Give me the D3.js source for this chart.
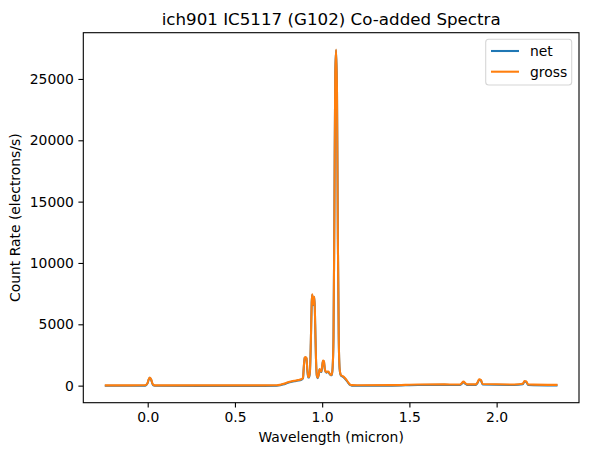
<!DOCTYPE html>
<html>
<head>
<meta charset="utf-8">
<script src="https://cdn.jsdelivr.net/npm/d3@7"></script>
<style>
  body { margin: 0; background: #fff; }
  svg text { font-family: "DejaVu Sans", sans-serif; fill: #000; }
</style>
</head>
<body>
<svg width="589" height="455"></svg>
<script>
// spectrum (micron / electrons per second)
let wavelength = [-0.24, -0.1, -0.02, -0.01, 0.0, 0.005, 0.012, 0.02, 0.027, 0.035, 0.05, 0.3, 0.6,
    0.74, 0.76, 0.78, 0.80, 0.82, 0.84, 0.86, 0.88, 0.89, 0.895, 0.90, 0.905, 0.91, 0.915, 0.92,
    0.925, 0.93, 0.935, 0.94, 0.943, 0.946, 0.949, 0.952, 0.956, 0.96, 0.965, 0.97, 0.975, 0.98,
    0.985, 0.99, 0.995, 1.0, 1.005, 1.01, 1.015, 1.02, 1.025, 1.03, 1.035, 1.04, 1.045, 1.05,
    1.055, 1.06, 1.065, 1.07, 1.075, 1.08, 1.085, 1.09, 1.095, 1.10, 1.105, 1.11, 1.12, 1.13,
    1.14, 1.15, 1.16, 1.17, 1.2, 1.4, 1.55, 1.7, 1.79, 1.80, 1.81, 1.82, 1.83, 1.88, 1.89, 1.90,
    1.91, 1.92, 2.1, 2.15, 2.16, 2.17, 2.18, 2.343];

let gross = [20, 20, 25, 60, 250, 500, 660, 500, 180, 40, 20, 20, 20,
    25, 70, 150, 250, 330, 400, 450, 520, 650, 1600, 2300, 2330, 2250, 1300, 700,
    700, 1200, 3500, 6800, 7450, 7000, 6600, 7100, 7250, 5000, 2000, 800, 650, 900,
    1350, 1200, 1150, 1600, 2050, 2000, 1400, 1150, 1100, 1150, 1150, 1050, 950, 880,
    900, 1500, 4000, 14000, 25500, 27400, 24000, 12000, 4000, 1400, 950, 820, 760, 620,
    450, 250, 90, 40, 30, 40, 90, 100, 90, 200, 330, 200, 100, 100, 250, 520,
    450, 130, 90, 150, 380, 340, 100, 60];

let net = [-10, -15, -5, 30, 220, 470, 630, 470, 150, 10, -10, -20, -20,
    -15, 30, 110, 210, 290, 360, 410, 480, 610, 1560, 2260, 2290, 2210, 1260, 660,
    660, 1160, 3460, 6760, 7410, 6960, 6560, 7060, 7210, 4960, 1960, 760, 610, 860,
    1310, 1160, 1110, 1560, 2010, 1960, 1360, 1110, 1060, 1110, 1110, 1010, 910, 840,
    860, 1460, 3960, 13960, 25460, 27360, 23960, 11960, 3960, 1360, 910, 780, 720, 580,
    410, 210, 50, 0, -10, 0, 50, 60, 50, 160, 290, 160, 60, 60, 210, 480,
    410, 90, 50, 110, 340, 300, 60, 20];

let xTicks = [0.0, 0.5, 1.0, 1.5, 2.0];
let yTicks = [0, 5000, 10000, 15000, 20000, 25000];

let seriesNames = ["net", "gross"];
let seriesColors = ["#1f77b4", "#ff7f0e"];

let svg = d3.select("svg");
let plotLeft = 83.3, plotRight = 579, plotTop = 32.7, plotBottom = 402.7;

// matplotlib style 5% margins
let xExt = d3.extent(wavelength);
let xPad = (xExt[1] - xExt[0]) * 0.05;
let yMin = d3.min(net.concat(gross)), yMax = d3.max(net.concat(gross));
let yPad = (yMax - yMin) * 0.05;

let x = d3.scaleLinear().domain([xExt[0] - xPad, xExt[1] + xPad]).range([plotLeft, plotRight]);
let y = d3.scaleLinear().domain([yMin - yPad, yMax + yPad]).range([plotBottom, plotTop]);

let plot = svg.append("g");
plot.append("clipPath").attr("id", "clip")
    .append("rect").attr("x", plotLeft).attr("y", plotTop)
    .attr("width", plotRight - plotLeft).attr("height", plotBottom - plotTop);

let line = d3.line()
    .x(d => x(d[0]))
    .y(d => y(d[1]))
    .curve(d3.curveMonotoneX);

[net, gross].forEach((vals, i) => {
    plot.append("path")
        .datum(wavelength.map((w, j) => [w, vals[j]]))
        .attr("clip-path", "url(#clip)")
        .attr("fill", "none")
        .attr("stroke", seriesColors[i])
        .attr("stroke-width", 2.08)
        .attr("stroke-linejoin", "round")
        .attr("stroke-linecap", "square")
        .attr("d", line);
});

// axes
let xAxis = svg.append("g")
    .attr("transform", "translate(0," + plotBottom + ")")
    .call(d3.axisBottom(x).tickValues(xTicks).tickFormat(d3.format(".1f")).tickSize(4.9).tickPadding(4.5));
let yAxis = svg.append("g")
    .attr("transform", "translate(" + plotLeft + ",0)")
    .call(d3.axisLeft(y).tickValues(yTicks).tickFormat(d3.format("d")).tickSize(4.9).tickPadding(4.5));

[xAxis, yAxis].forEach(a => {
    a.select(".domain").remove();
    a.selectAll(".tick line").attr("stroke", "#000").attr("stroke-width", 1.1);
    a.selectAll(".tick text").style("font-size", "13.9px").attr("fill", "#000");
});

svg.append("rect")
    .attr("x", plotLeft).attr("y", plotTop)
    .attr("width", plotRight - plotLeft).attr("height", plotBottom - plotTop)
    .attr("fill", "none").attr("stroke", "#000").attr("stroke-width", 1.1);

// labels
svg.append("text")
    .attr("x", (plotLeft + plotRight) / 2).attr("y", 24.5)
    .attr("text-anchor", "middle")
    .style("font-size", "16.7px")
    .text("ich901 IC5117 (G102) Co-added Spectra");

svg.append("text")
    .attr("x", (plotLeft + plotRight) / 2).attr("y", 442)
    .attr("text-anchor", "middle")
    .style("font-size", "13.9px")
    .text("Wavelength (micron)");

svg.append("text")
    .attr("transform", "translate(20," + (plotTop + plotBottom) / 2 + ") rotate(-90)")
    .attr("text-anchor", "middle")
    .style("font-size", "13.9px")
    .text("Count Rate (electrons/s)");

// legend
let legend = svg.append("g");
legend.append("rect")
    .attr("x", 485.7).attr("y", 39.3)
    .attr("width", 86).attr("height", 45.7)
    .attr("rx", 3).attr("ry", 3)
    .attr("fill", "#fff").attr("fill-opacity", 0.8)
    .attr("stroke", "#d6d6d6").attr("stroke-width", 1.1);

seriesNames.forEach((name, i) => {
    let ly = 51 + i * 20.7;
    legend.append("line")
        .attr("x1", 491).attr("x2", 519)
        .attr("y1", ly).attr("y2", ly)
        .attr("stroke", seriesColors[i]).attr("stroke-width", 2.08);
    legend.append("text")
        .attr("x", 530).attr("y", ly + 5)
        .style("font-size", "13.9px")
        .text(name);
});
</script>
</body>
</html>
